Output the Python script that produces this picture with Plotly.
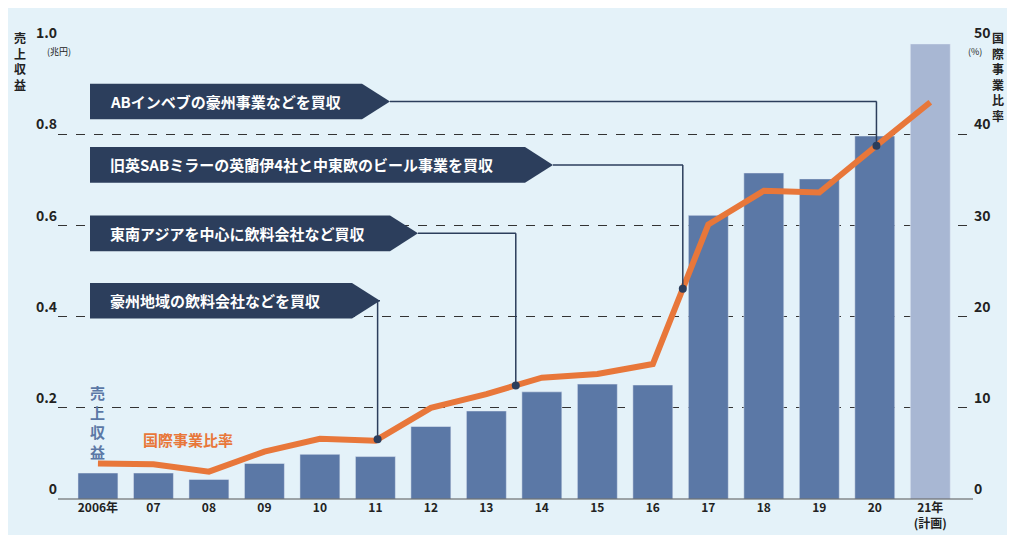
import plotly.graph_objects as go
import numpy as np

years = ["2006年", "07", "08", "09", "10", "11", "12", "13", "14", "15", "16", "17", "18", "19", "20", "21年<br>(計画)"]
revenue = [0.057, 0.057, 0.043, 0.078, 0.098, 0.093, 0.159, 0.193, 0.235, 0.252, 0.25, 0.622, 0.715, 0.702, 0.796, 0.998]
intl_ratio = [3.9, 3.8, 3.0, 5.2, 6.6, 6.4, 10.0, 11.5, 13.3, 13.7, 14.8, 30.1, 33.8, 33.6, 38.6, 43.5]
events = ["豪州地域の飲料会社などを買収", "東南アジアを中心に飲料会社など買収",
          "旧英SABミラーの英蘭伊4社と中東欧のビール事業を買収", "ABインベブの豪州事業などを買収"]
event_pos = [5.04, 7.53, 10.54, 14.03]

idx = list(range(len(years)))
bar_colors = ["#5b78a6"] * (len(years) - 1) + ["#a8b7d3"]
NAVY = "#2c3e5c"
ORANGE = "#e8773a"
FONT = "Noto Sans CJK JP"

fig = go.Figure()
fig.add_bar(x=idx, y=revenue, marker_color=bar_colors, width=0.72, yaxis="y")
fig.add_scatter(x=idx, y=intl_ratio, mode="lines", line=dict(color=ORANGE, width=6), yaxis="y2")

dot_y = np.interp(event_pos, idx, intl_ratio)
fig.add_scatter(x=event_pos, y=dot_y, mode="markers", marker=dict(color=NAVY, size=8), yaxis="y2")

# pixel -> paper helpers
def px(x): return (x - 50) / 915
def py(y): return (495 - y) / 460

boxes = [(372, 277, 313), (410, 209, 245), (545, 140, 176), (382, 76, 112)]
shapes = []
annotations = []
for (tip, top, bot), text, xe, ye in zip(boxes, events, event_pos, dot_y):
    mid = (top + bot) / 2
    path = (f"M {px(82)} {py(top)} L {px(tip-28)} {py(top)} L {px(tip)} {py(mid)} "
            f"L {px(tip-28)} {py(bot)} L {px(82)} {py(bot)} Z")
    shapes.append(dict(type="path", path=path, xref="paper", yref="paper",
                       fillcolor=NAVY, line=dict(width=0)))
    # leader line
    shapes.append(dict(type="line", xref="paper", yref="paper", x0=px(tip), y0=py(mid),
                       x1=(90 + xe * 55.5 - 50) / 915, y1=py(mid), line=dict(color=NAVY, width=1.5)))
    shapes.append(dict(type="line", xref="x", yref="y2", x0=xe, x1=xe, y0=ye,
                       y1=(495 - mid) / 9.2, line=dict(color=NAVY, width=1.5)))
    annotations.append(dict(text=text, xref="paper", yref="paper", x=px(100), y=py(mid),
                            xanchor="left", yanchor="middle", showarrow=False,
                            font=dict(color="white", size=15, family=FONT, weight="bold")))

annotations += [
    dict(text="売<br>上<br>収<br>益", xref="paper", yref="paper", x=px(12), y=1.035, xanchor="center",
         yanchor="top", showarrow=False, font=dict(size=12, color="#222", family=FONT, weight="bold")),
    dict(text="(兆円)", xref="paper", yref="paper", x=px(37), y=py(44), xanchor="left",
         yanchor="middle", showarrow=False, font=dict(size=9, color="#222", family=FONT)),
    dict(text="国<br>際<br>事<br>業<br>比<br>率", xref="paper", yref="paper", x=px(990), y=1.035,
         xanchor="center", yanchor="top", showarrow=False,
         font=dict(size=12, color="#222", family=FONT, weight="bold")),
    dict(text="(%)", xref="paper", yref="paper", x=px(958), y=py(44), xanchor="left",
         yanchor="middle", showarrow=False, font=dict(size=9, color="#222", family=FONT)),
    dict(text="売<br>上<br>収<br>益", xref="paper", yref="paper", x=px(89), y=py(375), xanchor="center",
         yanchor="top", showarrow=False, font=dict(size=15, color="#5b78a6", family=FONT, weight="bold")),
    dict(text="国際事業比率", xref="paper", yref="paper", x=px(133), y=py(435), xanchor="left",
         yanchor="middle", showarrow=False, font=dict(size=15, color=ORANGE, family=FONT, weight="bold")),
]

fig.update_layout(
    width=1015, height=535,
    margin=dict(l=50, r=50, t=35, b=42),
    paper_bgcolor="#e4f2f9", plot_bgcolor="#e4f2f9",
    showlegend=False,
    font=dict(family=FONT, color="#222"),
    xaxis=dict(range=[-0.72, 15.77], tickvals=idx, ticktext=years, showgrid=False,
               tickfont=dict(size=12, weight="bold"), ticks="", zeroline=False),
    yaxis=dict(range=[0, 1.0], tickvals=[0, 0.2, 0.4, 0.6, 0.8, 1.0],
               ticktext=["0", "0.2", "0.4", "0.6", "0.8", "1.0"],
               showgrid=True, gridcolor="#333", griddash="dash", gridwidth=1,
               zeroline=False, tickfont=dict(size=14, weight="bold"), ticklabelposition="outside top",
               showline=False),
    yaxis2=dict(range=[0, 50], overlaying="y", side="right", tickvals=[0, 10, 20, 30, 40, 50],
                showgrid=False, zeroline=False, tickfont=dict(size=14, weight="bold"),
                ticklabelposition="outside top"),
    shapes=shapes + [dict(type="line", xref="paper", yref="paper", x0=0, x1=1, y0=0, y1=0,
                          line=dict(color="#555", width=1))],
    annotations=annotations,
)

fig.write_html("out.html")
